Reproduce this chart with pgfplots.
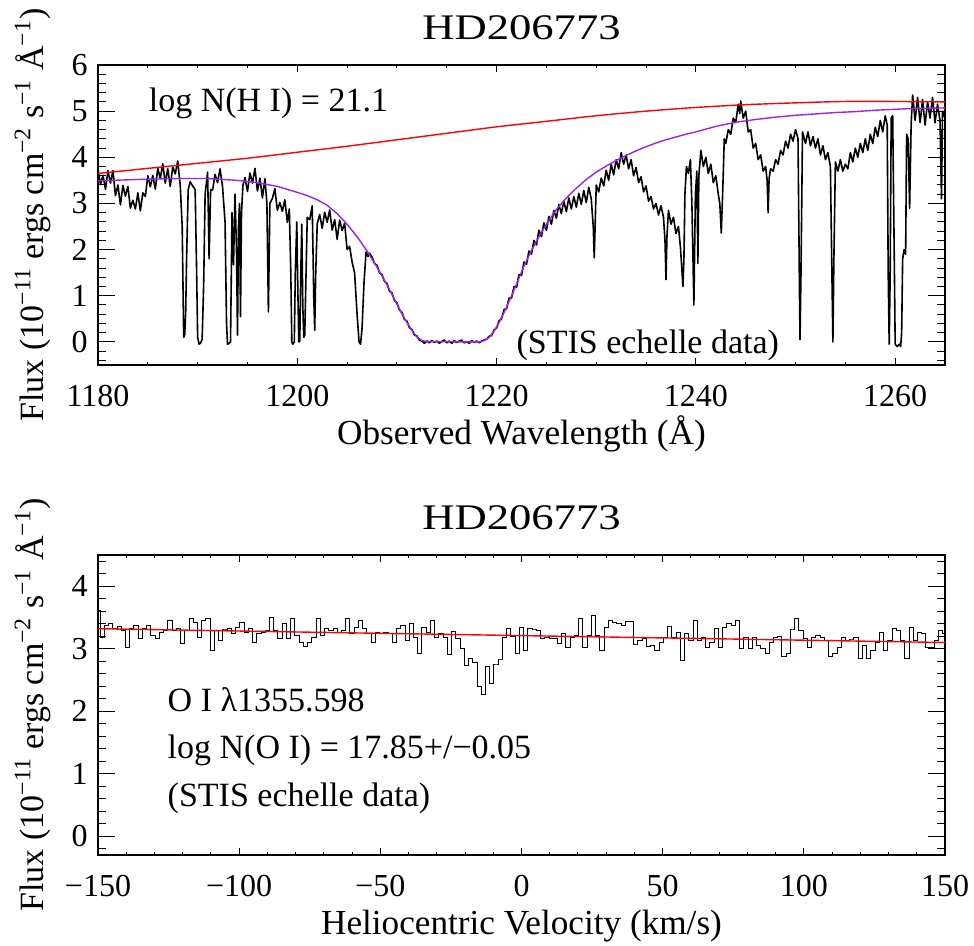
\documentclass[border=0pt]{standalone}
\usepackage{fontspec}
\setmainfont{Liberation Serif}
\usepackage{graphicx}
\usepackage{pgfplots}
\pgfplotsset{compat=1.18}
\definecolor{idlpurple}{RGB}{160,32,240}
\pgfplotsset{
  idlaxis/.style={
    scale only axis, width=423.5pt, height=150pt,
    axis line style={line width=0.6pt},
    tick align=inside, tick pos=both,
    every tick/.style={black, line width=0.5pt},
    every major x tick/.append style={/pgfplots/major tick length=3.3pt},
    every minor x tick/.append style={/pgfplots/minor tick length=1.7pt},
    every major y tick/.append style={/pgfplots/major tick length=8.5pt},
    every minor y tick/.append style={/pgfplots/minor tick length=4.2pt},
    ticklabel style={font=\fontsize{16}{16}\selectfont},
    xticklabel style={anchor=base, yshift=-21pt},
    yticklabel style={anchor=east, inner sep=0pt, xshift=-5pt},
    every axis title/.style={at={(0.5,1)}, anchor=base, yshift=12.5pt, font=\fontsize{18}{18}\selectfont},
    every axis y label/.style={at={(axis description cs:-0.0649,0.5)}, rotate=90, anchor=base, font=\fontsize{17}{17}\selectfont},
    every axis x label/.style={at={(axis description cs:0.5,-0.265)}, anchor=base, font=\fontsize{17.6}{17.6}\selectfont},
  }
}
\begin{document}
\begin{tikzpicture}
\useasboundingbox (0pt,0pt) rectangle (487pt,473pt);
% ---------------- top panel ----------------
\begin{axis}[idlaxis, at={(49pt,290.5pt)}, anchor=south west,
  xmin=1180, xmax=1265, ymin=-0.5, ymax=6,
  xtick={1180,1200,1220,1240,1260}, xticklabels={1180,1200,1220,1240,1260},
  minor xtick={1180,1185,...,1265},
  ytick={0,1,2,3,4,5,6}, yticklabels={0,1,2,3,4,5,6},
  minor ytick={-0.4,-0.2,...,6.0},
  title={\scalebox{1.24}[1]{HD206773}},
  xlabel={Observed Wavelength (Å)},
  ylabel={Flux (10\textsuperscript{−11} ergs cm\textsuperscript{−2} s\textsuperscript{−1} Å\textsuperscript{−1})},
]
\addplot[black, line width=0.8pt, line join=round] table {
1180.00 3.75
1180.25 3.41
1180.50 3.61
1180.75 3.31
1181.00 3.71
1181.25 3.44
1181.50 3.71
1181.75 3.17
1182.00 3.40
1182.25 2.97
1182.50 3.39
1182.75 3.16
1183.00 3.37
1183.25 2.90
1183.50 3.07
1183.75 2.88
1184.00 3.23
1184.25 2.84
1184.50 3.23
1184.75 3.15
1185.00 3.60
1185.25 3.36
1185.50 3.61
1185.75 3.31
1186.00 3.76
1186.25 3.54
1186.50 3.86
1186.75 3.44
1187.00 3.75
1187.25 3.37
1187.50 3.79
1187.75 3.64
1188.00 3.92
1188.25 3.40
1188.45 2.50
1188.60 0.10
1188.70 0.15
1188.80 0.65
1188.90 1.90
1189.05 3.30
1189.25 3.47
1189.50 3.38
1189.75 3.30
1189.90 1.50
1190.00 0.10
1190.15 -0.05
1190.30 -0.02
1190.45 0.05
1190.60 1.20
1190.75 3.20
1191.00 3.68
1191.15 1.80
1191.30 3.30
1191.50 3.29
1191.75 3.63
1192.00 3.45
1192.25 3.75
1192.50 3.36
1192.75 2.60
1192.90 0.40
1193.00 -0.05
1193.15 -0.03
1193.30 0.00
1193.45 2.80
1193.60 1.67
1193.75 3.20
1193.90 2.00
1194.00 0.15
1194.10 2.50
1194.20 3.00
1194.30 0.55
1194.40 2.80
1194.55 3.40
1194.75 3.56
1195.00 3.26
1195.25 3.66
1195.50 3.44
1195.75 3.76
1196.00 3.27
1196.25 3.55
1196.50 3.12
1196.75 3.54
1196.95 3.00
1197.10 0.65
1197.25 3.00
1197.50 3.11
1197.75 3.32
1198.00 2.85
1198.25 3.02
1198.50 2.83
1198.75 3.08
1199.00 2.59
1199.20 2.88
1199.35 1.50
1199.45 0.00
1199.55 -0.05
1199.70 0.00
1199.80 1.50
1199.95 2.60
1200.05 1.20
1200.15 0.00
1200.25 0.02
1200.35 1.50
1200.45 2.55
1200.55 0.80
1200.65 0.10
1200.75 0.15
1200.85 1.20
1201.00 2.70
1201.25 2.65
1201.50 2.95
1201.65 1.00
1201.75 0.25
1201.85 1.50
1202.00 2.56
1202.25 2.76
1202.50 2.46
1202.75 2.81
1203.00 2.59
1203.25 2.86
1203.50 2.42
1203.75 2.65
1204.00 2.22
1204.25 2.64
1204.50 2.41
1204.75 2.57
1205.00 2.00
1205.25 2.07
1205.50 1.73
1205.75 1.50
1206.00 0.60
1206.20 0.00
1206.35 -0.05
1206.50 0.30
1206.70 1.30
1206.90 1.95
1207.10 1.85
1207.25 1.92
1207.50 1.84
1207.75 1.70
1208.00 1.66
1208.25 1.50
1208.50 1.46
1208.75 1.31
1209.00 1.27
1209.25 1.10
1209.50 1.06
1209.75 0.90
1210.00 0.85
1210.25 0.69
1210.50 0.64
1210.75 0.49
1211.00 0.45
1211.25 0.31
1211.50 0.27
1211.75 0.15
1212.00 0.13
1212.25 0.04
1212.50 0.02
1212.75 -0.03
1213.00 0.02
1213.25 -0.02
1213.50 0.03
1213.75 -0.01
1214.00 0.02
1214.25 -0.03
1214.50 0.01
1214.75 0.04
1215.00 -0.02
1215.25 0.02
1215.50 -0.03
1215.75 0.03
1216.00 -0.01
1216.25 0.02
1216.50 0.04
1216.75 -0.02
1217.00 0.01
1217.25 -0.03
1217.50 0.03
1217.75 -0.01
1218.00 0.02
1218.25 -0.02
1218.50 0.02
1218.75 0.04
1219.00 0.06
1219.25 0.12
1219.50 0.14
1219.75 0.26
1220.00 0.30
1220.25 0.46
1220.50 0.50
1220.75 0.70
1221.00 0.72
1221.25 0.95
1221.50 0.95
1221.75 1.20
1222.00 1.18
1222.25 1.46
1222.50 1.44
1222.75 1.73
1223.00 1.68
1223.25 1.97
1223.50 1.90
1223.75 2.20
1224.00 2.10
1224.25 2.42
1224.50 2.28
1224.75 2.58
1225.00 2.42
1225.25 2.72
1225.50 2.55
1225.75 2.85
1226.00 2.68
1226.25 2.98
1226.50 2.78
1226.75 3.05
1227.00 2.82
1227.25 3.12
1227.50 2.88
1227.75 3.15
1228.00 2.92
1228.25 3.22
1228.50 2.98
1228.75 3.28
1229.00 3.02
1229.25 3.35
1229.50 3.10
1229.70 2.50
1229.80 1.82
1229.90 2.60
1230.00 3.40
1230.25 3.25
1230.50 3.55
1230.75 3.38
1231.00 3.72
1231.25 3.50
1231.50 3.85
1231.75 3.62
1232.00 3.95
1232.25 3.75
1232.50 4.10
1232.75 3.85
1233.00 4.05
1233.25 3.75
1233.50 3.95
1233.75 3.60
1234.00 3.78
1234.25 3.45
1234.50 3.58
1234.75 3.25
1235.00 3.38
1235.25 3.05
1235.50 3.15
1235.75 2.88
1236.00 3.00
1236.25 2.75
1236.50 2.95
1236.75 2.70
1236.90 2.20
1237.00 1.35
1237.10 2.30
1237.25 2.85
1237.50 2.55
1237.75 2.70
1238.00 2.35
1238.25 2.50
1238.45 2.05
1238.60 1.55
1238.70 1.20
1238.80 1.80
1238.90 3.20
1239.05 3.80
1239.25 3.65
1239.45 3.95
1239.60 3.00
1239.80 0.80
1239.95 3.20
1240.10 3.70
1240.20 1.70
1240.30 3.60
1240.50 4.15
1240.75 3.80
1241.00 4.00
1241.25 3.65
1241.50 3.85
1241.75 3.45
1242.00 3.60
1242.25 3.20
1242.40 3.00
1242.55 2.36
1242.70 3.30
1242.85 4.40
1243.00 4.30
1243.25 4.60
1243.50 4.50
1243.75 4.85
1244.00 4.75
1244.25 5.15
1244.40 4.95
1244.50 5.22
1244.75 4.85
1245.00 5.00
1245.25 4.55
1245.50 4.60
1245.75 4.20
1246.00 4.30
1246.25 3.95
1246.50 4.05
1246.75 3.70
1247.00 3.80
1247.15 3.50
1247.25 2.80
1247.35 3.55
1247.50 3.75
1247.75 3.70
1248.00 3.95
1248.25 3.85
1248.50 4.15
1248.75 4.05
1249.00 4.35
1249.25 4.20
1249.50 4.50
1249.75 4.35
1250.00 4.60
1250.25 4.40
1250.40 1.00
1250.45 0.05
1250.55 1.50
1250.70 4.55
1251.00 4.30
1251.25 4.55
1251.50 4.25
1251.75 4.45
1252.00 4.20
1252.25 4.40
1252.50 4.05
1252.75 4.25
1253.00 3.95
1253.25 4.10
1253.50 3.80
1253.65 1.50
1253.75 0.00
1253.85 1.80
1254.00 3.90
1254.25 3.70
1254.50 3.95
1254.75 3.70
1255.00 3.85
1255.25 3.75
1255.50 4.10
1255.75 3.90
1256.00 4.20
1256.25 4.00
1256.50 4.30
1256.75 4.10
1257.00 4.40
1257.25 4.15
1257.50 4.50
1257.75 4.30
1258.00 4.65
1258.25 4.45
1258.50 4.80
1258.75 4.55
1259.00 4.90
1259.20 4.70
1259.30 1.50
1259.40 -0.05
1259.50 1.50
1259.60 4.85
1259.75 4.90
1259.90 2.00
1260.00 -0.05
1260.20 -0.10
1260.40 -0.05
1260.55 -0.10
1260.65 0.20
1260.75 1.80
1260.90 2.00
1261.05 1.90
1261.15 4.50
1261.30 4.40
1261.45 2.90
1261.60 4.70
1261.75 5.35
1262.00 4.80
1262.25 5.30
1262.50 4.75
1262.75 5.25
1263.00 4.70
1263.25 5.20
1263.50 4.85
1263.75 5.30
1264.00 4.75
1264.25 5.15
1264.50 4.80
1264.65 3.10
1264.75 5.00
1265.00 4.85
};
\addplot[red, line width=0.7pt, smooth] coordinates {
(1180,3.65) (1185,3.76) (1190,3.87) (1195,3.98) (1200,4.11) (1205,4.24)
(1210,4.38) (1215,4.52) (1220,4.66) (1225,4.78) (1230,4.90) (1235,5.00)
(1240,5.08) (1245,5.14) (1250,5.18) (1255,5.21) (1260,5.21) (1265,5.20)
};
\addplot[idlpurple, line width=0.7pt] coordinates {
(1180,3.49) (1184,3.52) (1188,3.54) (1191,3.54) (1194,3.50) (1196,3.45)
(1198,3.37) (1200,3.24) (1201,3.17) (1202,3.08) (1203,2.96) (1204,2.78)
(1205,2.55) (1206,2.28) (1207,1.97) (1208,1.62) (1209,1.24) (1210,0.82)
(1210.5,0.61) (1211,0.42) (1211.5,0.25) (1212,0.11) (1212.5,0.03) (1213,0.005)
(1218.3,0.0) (1218.8,0.03) (1219.3,0.11) (1219.8,0.25) (1220.3,0.44)
(1220.8,0.66) (1221.3,0.90) (1222,1.25) (1222.7,1.62) (1223.5,1.98)
(1224.3,2.30) (1225,2.55) (1226,2.87) (1227,3.12) (1228,3.33) (1229,3.52)
(1230,3.68) (1231,3.81) (1232,3.93) (1233,4.04) (1234,4.14) (1235,4.23)
(1236,4.31) (1237,4.38) (1238,4.44) (1239,4.50) (1240,4.55) (1242,4.67)
(1244,4.76) (1246,4.82) (1248,4.87) (1250,4.91) (1252,4.94) (1254,4.97)
(1256,4.99) (1258,5.02) (1260,5.04) (1262,5.06) (1265,5.07)
};
\node[anchor=base west, font=\fontsize{17}{17}\selectfont] at (axis cs:1184.4,5.0) {log N(H I) = 21.1};
\node[anchor=base west, font=\fontsize{17}{17}\selectfont] at (axis cs:1221.3,-0.25) {(STIS echelle data)};
\end{axis}
% ---------------- bottom panel ----------------
\begin{axis}[idlaxis, at={(49pt,45.5pt)}, anchor=south west,
  xmin=-150, xmax=150, ymin=-0.3, ymax=4.5,
  xtick={-150,-100,-50,0,50,100,150}, xticklabels={−150,−100,−50,0,50,100,150},
  minor xtick={-150,-140,...,150},
  ytick={0,1,2,3,4}, yticklabels={0,1,2,3,4},
  minor ytick={-0.2,0,...,4.4},
  title={\scalebox{1.24}[1]{HD206773}},
  xlabel={Heliocentric Velocity (km/s)},
  ylabel={Flux (10\textsuperscript{−11} ergs cm\textsuperscript{−2} s\textsuperscript{−1} Å\textsuperscript{−1})},
]
\addplot[black, line width=0.5pt, const plot mark mid] table {
-150.0 3.61
-148.5 3.18
-147.0 3.37
-145.5 3.40
-144.0 3.32
-142.5 3.35
-141.0 3.29
-139.5 3.02
-138.0 3.32
-136.5 3.37
-135.0 3.16
-133.5 3.32
-132.0 3.37
-130.5 3.21
-129.0 3.16
-127.5 3.26
-126.0 3.29
-124.5 3.45
-123.0 3.29
-121.5 3.32
-120.0 3.08
-118.5 3.29
-117.0 3.48
-115.5 3.42
-114.0 3.18
-112.5 3.45
-111.0 3.48
-109.5 2.97
-108.0 3.29
-106.5 3.13
-105.0 3.30
-103.5 3.32
-102.0 3.24
-100.5 3.34
-99.0 3.42
-97.5 3.26
-96.0 3.32
-94.5 3.10
-93.0 3.24
-91.5 3.26
-90.0 3.29
-88.5 3.50
-87.0 3.29
-85.5 3.16
-84.0 3.40
-82.5 3.16
-81.0 3.48
-79.5 3.21
-78.0 3.10
-76.5 3.03
-75.0 3.10
-73.5 3.18
-72.0 3.48
-70.5 3.21
-69.0 3.32
-67.5 3.29
-66.0 3.32
-64.5 3.26
-63.0 3.29
-61.5 3.48
-60.0 3.24
-58.5 3.34
-57.0 3.45
-55.5 3.32
-54.0 3.24
-52.5 3.10
-51.0 3.26
-49.5 3.24
-48.0 3.26
-46.5 3.24
-45.0 3.10
-43.5 3.32
-42.0 3.37
-40.5 3.13
-39.0 3.40
-37.5 3.18
-36.0 2.92
-34.5 3.34
-33.0 3.26
-31.5 3.45
-30.0 3.18
-28.5 3.24
-27.0 3.18
-25.5 2.91
-24.0 3.27
-22.5 3.17
-21.0 3.00
-19.5 2.73
-18.0 2.85
-16.5 2.78
-15.0 2.40
-13.5 2.27
-12.0 2.72
-10.5 2.45
-9.0 2.74
-7.5 2.82
-6.0 3.18
-4.5 3.32
-3.0 3.20
-1.5 2.92
0.0 3.34
1.5 2.97
3.0 3.32
4.5 3.30
6.0 3.29
7.5 3.17
9.0 3.18
10.5 3.17
12.0 3.16
13.5 3.08
15.0 3.24
16.5 3.02
18.0 3.18
19.5 3.21
21.0 3.48
22.5 3.02
24.0 3.21
25.5 3.53
27.0 3.21
28.5 2.97
30.0 3.34
31.5 3.45
33.0 3.42
34.5 3.40
36.0 3.37
37.5 3.44
39.0 3.43
40.5 3.06
42.0 3.13
43.5 3.17
45.0 3.04
46.5 3.05
48.0 2.97
49.5 3.10
51.0 3.18
52.5 3.36
54.0 3.18
55.5 3.26
57.0 2.81
58.5 3.24
60.0 3.13
61.5 3.45
63.0 3.13
64.5 3.18
66.0 3.02
67.5 3.10
69.0 3.32
70.5 3.02
72.0 3.34
73.5 3.40
75.0 3.37
76.5 3.45
78.0 3.00
79.5 3.18
81.0 3.00
82.5 3.18
84.0 3.05
85.5 3.00
87.0 2.92
88.5 3.10
90.0 3.18
91.5 3.19
93.0 2.88
94.5 2.92
96.0 3.30
97.5 3.49
99.0 3.29
100.5 3.16
102.0 3.02
103.5 3.18
105.0 3.21
106.5 3.18
108.0 3.13
109.5 2.88
111.0 2.92
112.5 3.02
114.0 3.18
115.5 3.13
117.0 3.14
118.5 3.18
120.0 2.84
121.5 3.05
123.0 2.84
124.5 2.97
126.0 3.10
127.5 3.26
129.0 2.97
130.5 3.13
132.0 3.32
133.5 3.29
135.0 3.13
136.5 2.84
138.0 3.34
139.5 3.13
141.0 3.26
142.5 3.24
144.0 3.02
145.5 3.02
147.0 3.13
148.5 3.29
150.0 3.24
};
\addplot[red, line width=0.7pt] coordinates {(-150,3.32) (150,3.10)};
\node[anchor=base west, font=\fontsize{17}{17}\selectfont] at (axis cs:-127.8,2.0) {O I λ1355.598};
\node[anchor=base west, font=\fontsize{17}{17}\selectfont] at (axis cs:-127.8,1.24) {log N(O I) = 17.85+/−0.05};
\node[anchor=base west, font=\fontsize{17}{17}\selectfont] at (axis cs:-127.8,0.47) {(STIS echelle data)};
\end{axis}
\end{tikzpicture}
\end{document}
